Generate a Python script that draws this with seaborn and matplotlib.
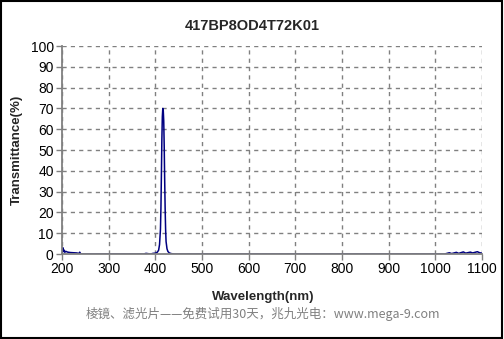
import matplotlib
matplotlib.use("Agg")
import matplotlib.pyplot as plt
import seaborn as sns
import pandas as pd
from matplotlib.patches import Rectangle

wavelength = [200, 201, 202, 203, 204, 206, 208, 212, 218, 225, 232, 236, 238, 240, 242,
              300, 375, 380, 390, 395, 400, 404, 407, 409, 411, 412, 413, 414, 415, 416, 417, 418,
              419, 420, 421, 422, 423, 425, 427, 430, 434, 440, 500, 700, 900,
              1020, 1030, 1035, 1045, 1050, 1060, 1065, 1075, 1080, 1090, 1095, 1100]
transmittance = [0.5, 1.5, 3.0, 1.2, 2.0, 0.8, 1.3, 0.9, 0.7, 0.6, 0.5, 0.2, 0.9, 0.1, 0.0,
                 0.0, 0.0, 0.3, 0.0, 0.3, 0.4, 0.8, 1.8, 4.5, 12.0, 22.0, 38.0, 55.0, 66.0, 70.0, 69.0, 64.0,
                 52.0, 36.0, 22.0, 12.0, 6.0, 2.5, 1.2, 0.5, 0.2, 0.0, 0.0, 0.0, 0.0,
                 0.0, 0.6, 0.2, 0.8, 0.3, 1.0, 0.4, 0.9, 0.5, 1.1, 0.6, 0.4]

title = "417BP8OD4T72K01"
xlabel = "Wavelength(nm)"
ylabel = "Transmittance(%)"
footer = "棱镜、滤光片——免费试用30天，兆九光电：www.mega-9.com"
xticks = list(range(200, 1101, 100))
yticks = list(range(0, 101, 10))

sns.set_theme(style="white")
plt.rcParams['font.family'] = ['Liberation Sans', 'Noto Sans CJK SC', 'DejaVu Sans']

df = pd.DataFrame({"wl": wavelength, "T": transmittance})

fig = plt.figure(figsize=(5.04, 3.39), dpi=100)
fig.patch.set_facecolor("white")
ax = fig.add_axes([62/504, 1-254/339, 420/504, 208/339])
ax.set_axisbelow(True)
sns.lineplot(data=df, x="wl", y="T", ax=ax, color="#000080", linewidth=1.1)

ax.set_xlim(200, 1100)
ax.set_ylim(0, 100)
ax.set_xticks(xticks)
ax.set_yticks(yticks)
ax.tick_params(axis="both", labelsize=10, length=4, width=1, color="#808080",
               direction="out", pad=2, labelcolor="black", bottom=True, left=True)
ax.grid(True, color="#808080", linestyle=(0, (3, 3)), linewidth=1)
for s in ["top", "right"]:
    ax.spines[s].set_visible(False)
for s in ["left", "bottom"]:
    ax.spines[s].set_color("#808080")
    ax.spines[s].set_linewidth(1.3)
ax.set_xlabel("")
ax.set_ylabel("")
ax.set_facecolor("white")

fig.text(252/504, 1-26/339, title, ha="center", va="center", fontsize=10.5, fontweight="bold")
fig.text(263/504, 1-297/339, xlabel, ha="center", va="center", fontsize=9.5, fontweight="bold")
fig.text(17/504, 1-150/339, ylabel, ha="center", va="center", fontsize=9.5, fontweight="bold", rotation=90)
fig.text(263/504, 1-314/339, footer, ha="center", va="center", fontsize=9, color="#808080",
         family=['Noto Sans CJK SC', 'DejaVu Sans'])

fig.patches.append(Rectangle((0.002, 0.003), 0.995, 0.994, transform=fig.transFigure,
                             fill=False, edgecolor="black", linewidth=1.5))

fig.savefig("out.png", dpi=100)
